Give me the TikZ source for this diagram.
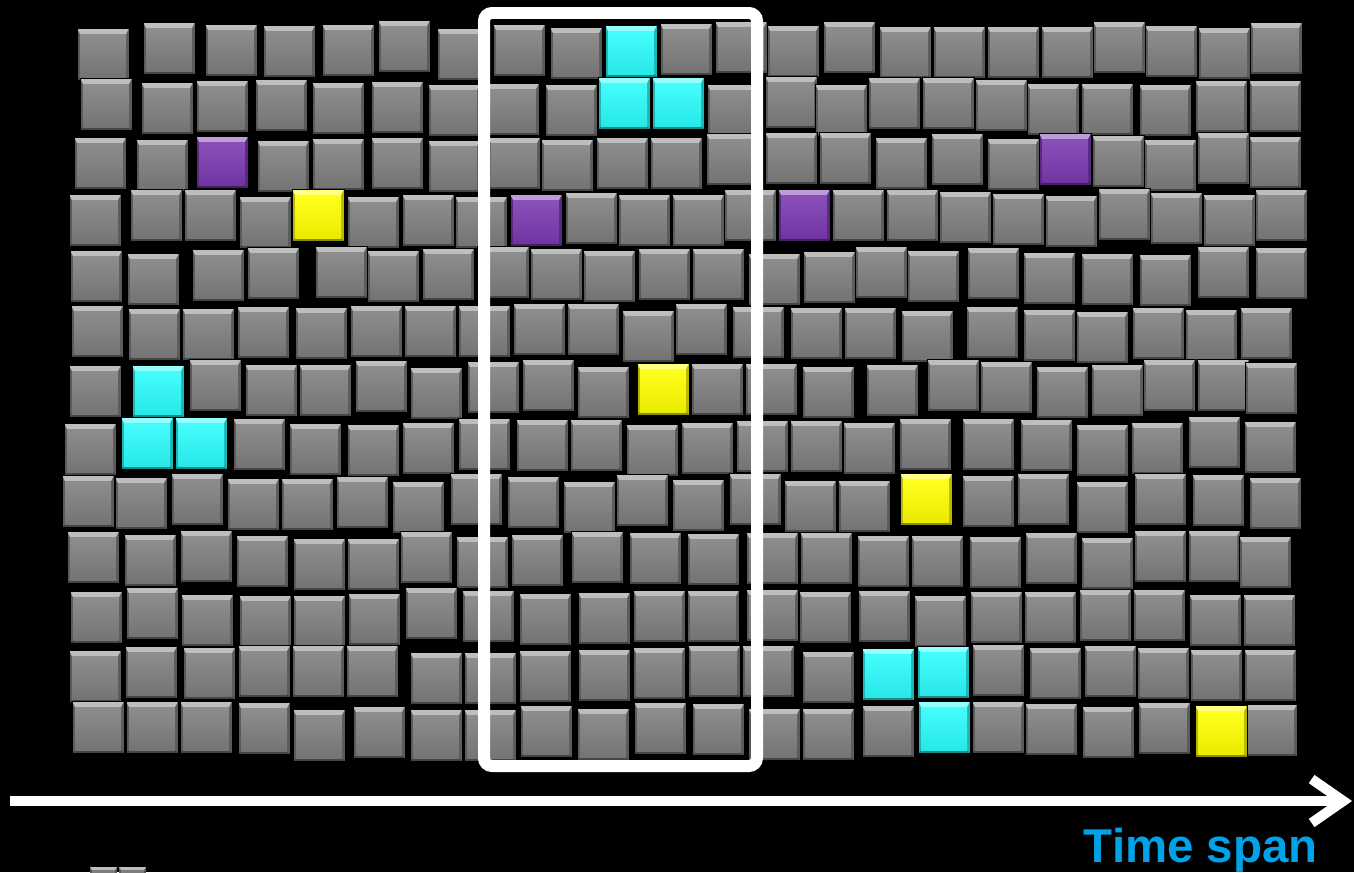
\documentclass[tikz,border=0pt]{standalone}
\usepackage{xcolor}
\usepackage{fontspec}
\usepackage{tikz}
\usetikzlibrary{arrows.meta}
\newfontfamily\spanfont{Liberation Sans}
\definecolor{tilegray}{HTML}{7E7E7E}
\definecolor{tilecyan}{HTML}{2CFCFC}
\definecolor{tilepurple}{HTML}{7B39B0}
\definecolor{tileyellow}{HTML}{FFFF00}
\definecolor{spanblue}{HTML}{00A3E8}
\newcommand{\tile}[3][tilegray]{%
  \pgfmathsetmacro{\tx}{#2}%
  \pgfmathsetmacro{\ty}{#3+mod(#2*7,9)-4}%
  \fill[#1!72!black] (\tx,\ty) rectangle ++(52,52);
  \fill[#1!50!white] (\tx,\ty) -- ++(52,0) -- ++(-3,6) -- ++(-46,0) -- cycle;
  \fill[#1!55!black] (\tx,\ty+52) -- ++(52,0) -- ++(-3,-3) -- ++(-46,0) -- cycle;
  \shade[top color=#1!88!white, bottom color=#1!92!black] (\tx+3,\ty+6) rectangle (\tx+49,\ty+49);
  \draw[black, line width=0.5pt] (\tx,\ty) rectangle ++(52,52);
}
\tikzset{
  frame/.style={white, line width=0.24cm, rounded corners=0.16cm},
  axis/.style={white, line width=0.2cm, -{Straight Barb[length=18pt, width=25pt]}},
}

\begin{document}
\begin{tikzpicture}[x=0.02cm, y=-0.02cm]
\fill[black] (0,0) rectangle (1354,872);
\useasboundingbox (0,0) rectangle (1354,872);
\foreach \y/\xs in {
  24/{77,143,205,263,322,378,437,493,550,605,660,715,767,823,879,933,987,1041,1093,1145,1198,1250},
  80/{80,141,196,255,312,371,428,487,545,598,652,707,765,815,868,922,975,1027,1081,1139,1195,1249},
  136/{74,136,196,257,312,371,428,488,541,596,650,706,765,819,875,931,987,1039,1092,1144,1197,1249},
  192/{69,130,184,239,292,347,402,455,510,565,618,672,724,778,832,886,939,992,1045,1098,1150,1203,1255},
  250/{70,127,192,247,315,367,422,477,530,583,638,692,748,803,855,907,967,1023,1081,1139,1197,1255},
  307/{71,128,182,237,295,350,404,458,513,567,622,675,732,790,844,901,966,1023,1076,1132,1185,1240},
  363/{69,132,189,245,299,355,410,467,522,577,637,691,745,802,866,927,980,1036,1091,1143,1197,1245},
  420/{64,121,175,233,289,347,402,458,516,570,626,681,736,790,843,899,962,1020,1076,1131,1188,1244},
  477/{62,115,171,227,281,336,392,450,507,563,616,672,729,784,838,900,962,1017,1076,1134,1192,1249},
  534/{67,124,180,236,293,347,400,456,511,571,629,687,746,800,857,911,969,1025,1081,1134,1188,1239},
  591/{70,126,181,239,293,348,405,462,519,578,633,687,746,799,858,914,970,1024,1079,1133,1189,1243},
  648/{69,125,183,238,292,346,410,464,519,578,633,688,742,802,862,917,972,1029,1084,1137,1190,1244},
  705/{72,126,180,238,293,353,410,464,520,577,634,692,748,802,862,918,972,1025,1082,1138,1195,1245}} {
  \foreach \x in \xs {
    \tile{\x}{\y}
  }
}
\foreach \x/\y/\c in {605/24/tilecyan, 598/80/tilecyan, 652/80/tilecyan,
  132/363/tilecyan, 121/420/tilecyan, 175/420/tilecyan,
  862/648/tilecyan, 917/648/tilecyan, 918/705/tilecyan,
  196/136/tilepurple, 1039/136/tilepurple, 510/192/tilepurple, 778/192/tilepurple,
  292/192/tileyellow, 637/363/tileyellow, 900/477/tileyellow, 1195/705/tileyellow} {
  \tile[\c]{\x}{\y}
}
\foreach \x in {90,119} {
  \fill[tilegray!72!black] (\x,867) rectangle ++(27,10);
  \fill[tilegray!50!white] (\x,867) -- ++(27,0) -- ++(-2,3) -- ++(-23,0) -- cycle;
  \fill[tilegray] (\x+2,870) rectangle ++(23,7);
}
\draw[frame] (484,13) rectangle (757,766);
\coordinate (axis start) at (10,801);
\coordinate (axis end) at (1352,801);
\draw[axis] (axis start) -- (axis end);
\node[anchor=base east, inner sep=0pt, text=spanblue] (span label) at (1318,862)
  {\spanfont\bfseries\fontsize{27}{32}\selectfont Time span};
\end{tikzpicture}
\end{document}
